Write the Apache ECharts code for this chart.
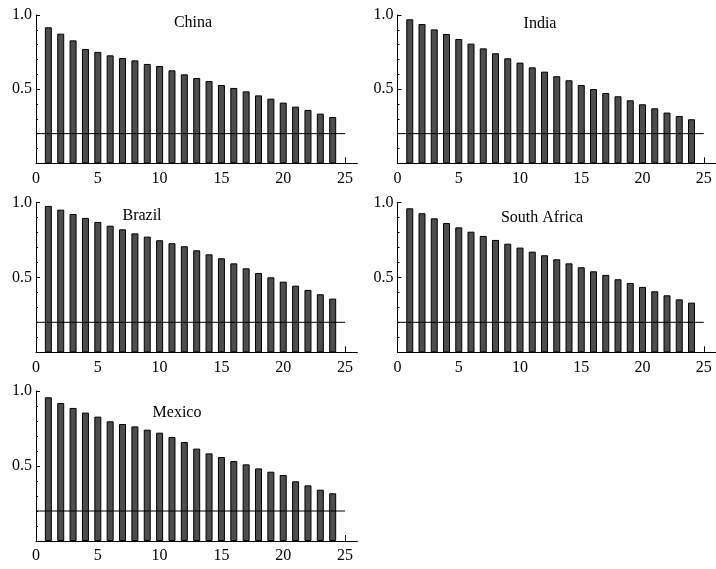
<!DOCTYPE html>
<html>
<head>
<meta charset="utf-8">
<script src="https://cdn.jsdelivr.net/npm/echarts@6/dist/echarts.min.js"></script>
<style>
html,body{margin:0;padding:0;background:#fff;}
#chart{width:716px;height:569px;}
</style>
</head>
<body>
<div id="chart"></div>
<script>
// ---- data ----
const periods = [1,2,3,4,5,6,7,8,9,10,11,12,13,14,15,16,17,18,19,20,21,22,23,24];
const countries = ["China", "India", "Brazil", "South Africa", "Mexico"];
const china = [0.917,0.874,0.829,0.771,0.751,0.728,0.710,0.694,0.670,0.656,0.627,0.600,0.575,0.555,0.528,0.508,0.485,0.458,0.436,0.409,0.382,0.360,0.335,0.312];
const india = [0.971,0.939,0.903,0.872,0.838,0.807,0.775,0.742,0.708,0.679,0.647,0.618,0.587,0.560,0.528,0.501,0.474,0.452,0.425,0.398,0.371,0.342,0.319,0.297];
const brazil = [0.976,0.951,0.922,0.896,0.869,0.844,0.820,0.793,0.771,0.747,0.727,0.707,0.680,0.653,0.627,0.593,0.560,0.529,0.500,0.471,0.444,0.416,0.387,0.358];
const southAfrica = [0.960,0.927,0.893,0.862,0.833,0.804,0.776,0.749,0.724,0.698,0.671,0.647,0.620,0.593,0.567,0.540,0.516,0.487,0.462,0.436,0.407,0.380,0.353,0.331];
const mexico = [0.958,0.920,0.887,0.856,0.829,0.798,0.780,0.764,0.742,0.722,0.693,0.660,0.616,0.584,0.560,0.533,0.511,0.484,0.462,0.440,0.398,0.371,0.342,0.318];
const threshold = 0.2;
const xTickLabels = [0, 5, 10, 15, 20, 25];
const yTickLabels = [0.5, 1.0];

const seriesValues = [china, india, brazil, southAfrica, mexico];

// ---- layout ----
const grids = [
  {left: 36,    top: 15,    width: 321.4, height: 148.3},
  {left: 397.5, top: 15,    width: 321.4, height: 148.3},
  {left: 36,    top: 202.3, width: 321.4, height: 150},
  {left: 397.5, top: 202.3, width: 321.4, height: 150},
  {left: 36,    top: 391,   width: 321.4, height: 150}
];
const titlePos = [[193, 23], [540, 24], [142, 216], [542, 218], [177, 413]];

const FONT = "'Liberation Serif', 'DejaVu Serif', serif";

const xAxes = [], yAxes = [], series = [], graphics = [];
countries.forEach((name, i) => {
  xAxes.push({
    gridIndex: i, type: 'value', min: 0, max: 26, interval: 5,
    axisLine: {show: true, onZero: false, lineStyle: {color: '#000', width: 1}},
    axisTick: {show: true, inside: true, length: 6, customValues: xTickLabels.slice(1), lineStyle: {color: '#000'}},
    axisLabel: {show: true, customValues: xTickLabels, color: '#000', fontFamily: FONT, fontSize: 16, margin: 7,
      formatter: v => (xTickLabels.indexOf(v) >= 0 ? String(v) : '')},
    splitLine: {show: false}
  });
  yAxes.push({
    gridIndex: i, type: 'value', min: 0, max: 1, interval: 0.5,
    axisLine: {show: true, lineStyle: {color: '#000', width: 1}},
    axisTick: {show: true, inside: true, length: 4, lineStyle: {color: '#000'}},
    minorTick: {show: true, splitNumber: 5, length: 2, lineStyle: {color: '#000'}},
    axisLabel: {color: '#000', fontFamily: FONT, fontSize: 16, margin: 4,
      formatter: v => (yTickLabels.some(t => Math.abs(t - v) < 1e-9) ? v.toFixed(1) : '')},
    splitLine: {show: false}
  });
  series.push({
    type: 'bar', xAxisIndex: i, yAxisIndex: i,
    data: periods.map((p, k) => [p, seriesValues[i][k]]),
    barWidth: 7,
    itemStyle: {color: '#4d4d4d', borderColor: '#000', borderWidth: 1},
    z: 2
  });
  series.push({
    type: 'line', xAxisIndex: i, yAxisIndex: i,
    data: [[0, threshold], [25, threshold]],
    symbol: 'none',
    lineStyle: {color: '#000', width: 1},
    z: 5
  });
  graphics.push({
    type: 'text', x: titlePos[i][0], y: titlePos[i][1],
    style: {text: name, fill: '#000', font: "16px " + FONT, textAlign: 'center', textVerticalAlign: 'middle'},
    z: 10
  });
});

const chart = echarts.init(document.getElementById('chart'), null, {renderer: 'canvas'});
chart.setOption({
  backgroundColor: '#fff',
  animation: false,
  grid: grids,
  xAxis: xAxes,
  yAxis: yAxes,
  series: series,
  graphic: graphics
});
</script>
</body>
</html>
